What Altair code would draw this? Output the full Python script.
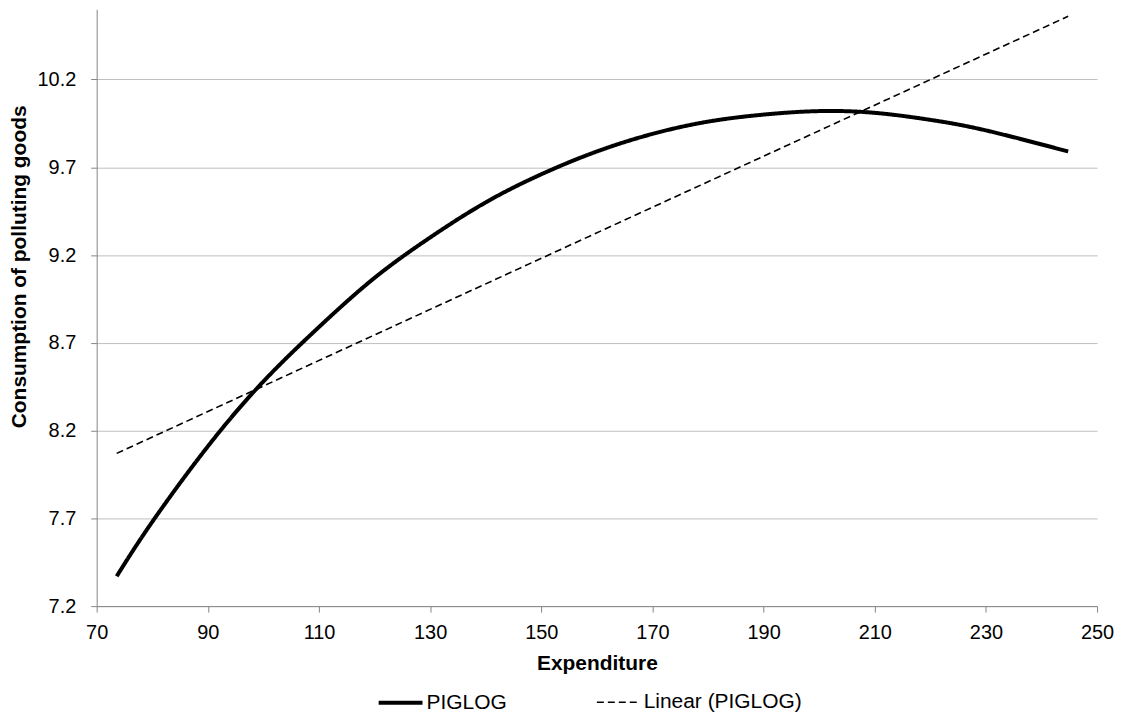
import altair as alt
import pandas as pd

# PIGLOG curve
piglog_x = [73.6, 80, 90, 100, 110, 120, 130, 140, 150, 160,
            170, 180, 190, 200, 210, 220, 230, 244.8]
piglog_y = [7.37, 7.68, 8.11, 8.48, 8.79, 9.07, 9.30, 9.50, 9.66, 9.79,
            9.89, 9.96, 10.00, 10.02, 10.01, 9.97, 9.91, 9.79]

# Linear trend (PIGLOG)
linear_x = [73.6, 244.8]
linear_y = [8.07, 10.56]

x_ticks = [70, 90, 110, 130, 150, 170, 190, 210, 230, 250]
y_ticks = [7.2, 7.7, 8.2, 8.7, 9.2, 9.7, 10.2]

series_names = ["PIGLOG", "Linear (PIGLOG)"]

df = pd.concat([
    pd.DataFrame({"x": piglog_x, "y": piglog_y, "series": series_names[0], "order": range(len(piglog_x))}),
    pd.DataFrame({"x": linear_x, "y": linear_y, "series": series_names[1], "order": range(len(linear_x))}),
], ignore_index=True)

FONT = "Liberation Sans"

chart = alt.Chart(df).mark_line(interpolate="natural", color="black").encode(
    x=alt.X("x:Q", scale=alt.Scale(domain=[70, 250], nice=False, zero=False),
            axis=alt.Axis(values=x_ticks, format="d", title="Expenditure",
                          grid=False, tickSize=6, labelPadding=10, labelFlush=False,
                          titleBaseline="alphabetic", titleY=64)),
    y=alt.Y("y:Q", scale=alt.Scale(domain=[7.2, 10.6], nice=False, zero=False),
            axis=alt.Axis(values=y_ticks, format=".1f",
                          title="Consumption of polluting goods",
                          grid=True, tickSize=6, labelPadding=15, labelFlush=False,
                          titleAngle=270, titleBaseline="alphabetic",
                          titleAlign="center", titleX=-71, titleY=258)),
    strokeDash=alt.StrokeDash("series:N",
                              scale=alt.Scale(domain=series_names, range=[[1, 0], [7, 4]]),
                              legend=alt.Legend(title=None)),
    strokeWidth=alt.StrokeWidth("series:N",
                                scale=alt.Scale(domain=series_names, range=[4, 1.6]),
                                legend=alt.Legend(title=None)),
    detail="series:N",
    order="order:Q",
).properties(
    width=1004,
    height=599,
    autosize=alt.AutoSizeParams(type="none"),
    padding={"left": 89, "top": 0, "right": 20, "bottom": 110},
).configure_view(stroke=None).configure_axis(
    labelFont=FONT, labelFontSize=20, labelColor="#000",
    titleFont=FONT, titleFontSize=21, titleFontWeight="bold", titleColor="#000",
    domainColor="#868686", tickColor="#868686", gridColor="#bfbfbf",
    domainWidth=1, tickWidth=1, gridWidth=1,
).configure_axisY(titleFontSize=21).configure_legend(
    orient="none", legendX=281, legendY=672, direction="horizontal",
    symbolType="stroke", symbolSize=1936, symbolStrokeColor="black",
    labelFont=FONT, labelFontSize=21, labelColor="#000", labelOffset=2,
    columnPadding=86,
)

chart.save("out.html", embed_options={"renderer": "svg", "actions": False})
